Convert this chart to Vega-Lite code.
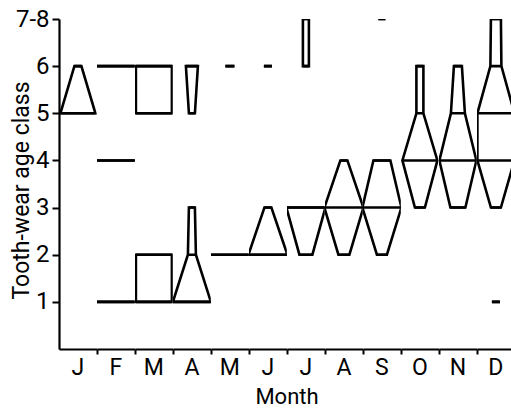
{
  "$schema": "https://vega.github.io/schema/vega-lite/v6.json",
  "background": "white",
  "padding": {"left": 10, "top": 7, "right": 0, "bottom": 0},
  "data": {"values": [
    {"month": "Jan", "class": 5, "w": 35, "seg": "Jan1"},
    {"month": "Jan", "class": 6, "w": 7, "seg": "Jan1"},
    {"month": "Feb", "class": 1, "w": 38, "seg": "Feb1"},
    {"month": "Feb", "class": 4, "w": 40, "seg": "Feb2"},
    {"month": "Feb", "class": 6, "w": 38, "seg": "Feb3"},
    {"month": "Mar", "class": 1, "w": 36, "seg": "Mar1"},
    {"month": "Mar", "class": 2, "w": 36, "seg": "Mar1"},
    {"month": "Mar", "class": 5, "w": 36, "seg": "Mar2"},
    {"month": "Mar", "class": 6, "w": 36, "seg": "Mar2"},
    {"month": "Apr", "class": 1, "w": 38, "seg": "Apr1"},
    {"month": "Apr", "class": 2, "w": 8, "seg": "Apr1"},
    {"month": "Apr", "class": 3, "w": 6, "seg": "Apr1"},
    {"month": "Apr", "class": 5, "w": 6, "seg": "Apr2"},
    {"month": "Apr", "class": 6, "w": 12, "seg": "Apr2"},
    {"month": "May", "class": 2, "w": 38, "seg": "May1"},
    {"month": "May", "class": 6, "w": 9, "seg": "May2"},
    {"month": "Jun", "class": 2, "w": 39, "seg": "Jun1"},
    {"month": "Jun", "class": 3, "w": 7, "seg": "Jun1"},
    {"month": "Jun", "class": 6, "w": 8, "seg": "Jun2"},
    {"month": "Jul", "class": 2, "w": 13, "seg": "Jul1"},
    {"month": "Jul", "class": 3, "w": 39, "seg": "Jul1"},
    {"month": "Jul", "class": 6, "w": 6, "seg": "Jul2"},
    {"month": "Jul", "class": 7, "w": 6, "seg": "Jul2"},
    {"month": "Aug", "class": 2, "w": 11, "seg": "Aug1"},
    {"month": "Aug", "class": 3, "w": 39, "seg": "Aug1"},
    {"month": "Aug", "class": 4, "w": 7, "seg": "Aug1"},
    {"month": "Sep", "class": 2, "w": 10, "seg": "Sep1"},
    {"month": "Sep", "class": 3, "w": 39, "seg": "Sep1"},
    {"month": "Sep", "class": 4, "w": 17, "seg": "Sep1"},
    {"month": "Sep", "class": 7, "w": 7, "seg": "Sep2"},
    {"month": "Oct", "class": 3, "w": 10, "seg": "Oct1"},
    {"month": "Oct", "class": 4, "w": 35, "seg": "Oct1"},
    {"month": "Oct", "class": 5, "w": 7, "seg": "Oct1"},
    {"month": "Oct", "class": 6, "w": 7, "seg": "Oct1"},
    {"month": "Nov", "class": 3, "w": 15, "seg": "Nov1"},
    {"month": "Nov", "class": 4, "w": 37, "seg": "Nov1"},
    {"month": "Nov", "class": 5, "w": 14, "seg": "Nov1"},
    {"month": "Nov", "class": 6, "w": 8, "seg": "Nov1"},
    {"month": "Dec", "class": 1, "w": 8, "seg": "Dec1"},
    {"month": "Dec", "class": 3, "w": 10, "seg": "Dec2"},
    {"month": "Dec", "class": 4, "w": 37, "seg": "Dec2"},
    {"month": "Dec", "class": 5, "w": 37, "seg": "Dec2"},
    {"month": "Dec", "class": 6, "w": 11, "seg": "Dec2"},
    {"month": "Dec", "class": 7, "w": 10, "seg": "Dec2"}
  ]},
  "transform": [
    {"stack": "w", "groupby": ["month", "class"], "offset": "center", "as": ["x0", "x1"]}
  ],
  "facet": {
    "column": {
      "field": "month", "type": "ordinal",
      "sort": ["Jan","Feb","Mar","Apr","May","Jun","Jul","Aug","Sep","Oct","Nov","Dec"],
      "header": {
        "labelOrient": "bottom",
        "labelExpr": "substring(datum.value, 0, 1)",
        "labelFont": "Roboto", "labelFontSize": 23, "labelColor": "black",
        "labelPadding": 2,
        "title": "Month", "titleOrient": "bottom",
        "titleFont": "Roboto", "titleFontSize": 22, "titleFontWeight": "normal", "titleColor": "black",
        "titlePadding": -3
      }
    }
  },
  "spacing": {"column": 0},
  "spec": {
    "width": 37.8,
    "height": 330,
    "encoding": {
      "y": {
        "field": "class", "type": "quantitative",
        "scale": {"domain": [0, 7], "nice": false, "zero": false},
        "axis": {
          "values": [1, 2, 3, 4, 5, 6, 7],
          "labelExpr": "datum.value == 7 ? '7-8' : datum.value",
          "title": "Tooth-wear age class",
          "titleFont": "Roboto", "titleFontSize": 23, "titleFontWeight": "normal", "titleColor": "black",
          "titleX": -26, "titleY": 171,
          "labelFont": "Roboto", "labelFontSize": 24, "labelColor": "black",
          "labelPadding": 3, "tickSize": 7, "tickWidth": 2, "tickColor": "black",
          "domainColor": "black", "domainWidth": 2.2, "grid": false
        }
      },
      "x": {
        "field": "x0", "type": "quantitative", "stack": null,
        "scale": {"domain": [1.1, 38.9], "nice": false, "zero": false},
        "axis": {
          "values": [38.9], "labels": false, "title": null,
          "tickSize": 5, "tickWidth": 2, "tickColor": "black",
          "domainColor": "black", "domainWidth": 2.2, "grid": false
        }
      },
      "x2": {"field": "x1"}
    },
    "layer": [
      {"mark": {"type": "rule", "color": "black", "strokeWidth": 2.6, "clip": true}},
      {
        "mark": {"type": "area", "orient": "horizontal", "fillOpacity": 0, "stroke": "black", "strokeWidth": 2.6, "clip": true},
        "encoding": {"detail": {"field": "seg"}}
      }
    ]
  },
  "config": {"view": {"stroke": null}}
}
